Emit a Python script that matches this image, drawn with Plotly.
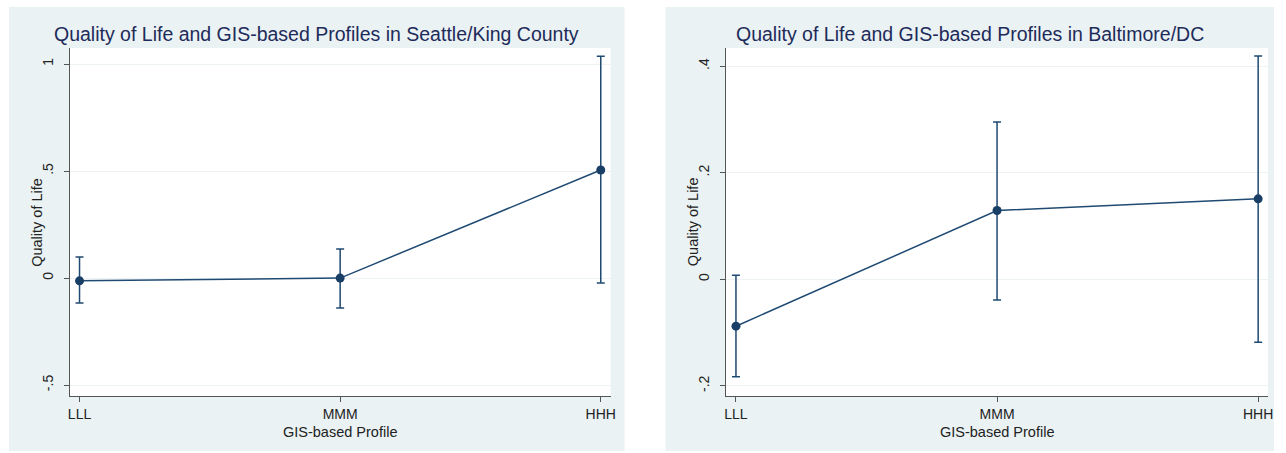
import plotly.graph_objects as go

profiles = ["LLL", "MMM", "HHH"]

seattle_mean = [-0.013, 0.0, 0.505]
seattle_lower = [-0.117, -0.14, -0.023]
seattle_upper = [0.098, 0.136, 1.037]

balt_mean = [-0.088, 0.129, 0.151]
balt_lower = [-0.183, -0.039, -0.118]
balt_upper = [0.0075, 0.295, 0.419]

seattle_ticks = [-0.5, 0, 0.5, 1]
seattle_ticktext = ["-.5", "0", ".5", "1"]
balt_ticks = [-0.2, 0, 0.2, 0.4]
balt_ticktext = ["-.2", "0", ".2", ".4"]

titles = ["Quality of Life and GIS-based Profiles in Seattle/King County",
          "Quality of Life and GIS-based Profiles in Baltimore/DC"]

W, H = 1286, 453
NAVY = "#1f4a72"
BG = "#eaf2f3"
FONT = "Liberation Sans, Arial, Helvetica, sans-serif"

def px(x):
    return x / W

def py(y):
    return 1 - y / H

fig = go.Figure()

for i, (m, lo, up) in enumerate([(seattle_mean, seattle_lower, seattle_upper),
                                  (balt_mean, balt_lower, balt_upper)]):
    ax = "" if i == 0 else "2"
    fig.add_trace(go.Scatter(
        x=profiles, y=m, mode="lines+markers",
        xaxis="x" + ax, yaxis="y" + ax,
        line=dict(color=NAVY, width=1.5),
        marker=dict(color="#1a3f66", size=9),
        error_y=dict(type="data", symmetric=False,
                     array=[u - v for u, v in zip(up, m)],
                     arrayminus=[v - l for v, l in zip(m, lo)],
                     color=NAVY, thickness=1.5, width=4),
        showlegend=False,
    ))

# panel backgrounds (graph regions)
panels = [(7, 626), (667, 1279)]
for (x0, x1) in panels:
    fig.add_shape(type="rect", xref="paper", yref="paper",
                  x0=px(x0), x1=px(x1), y0=py(451), y1=py(7),
                  fillcolor=BG, line=dict(width=0), layer="below")

plot_x = [(68, 612), (728, 1273)]
for (x0, x1) in plot_x:
    fig.add_shape(type="rect", xref="paper", yref="paper",
                  x0=px(x0), x1=px(x1), y0=py(396), y1=py(48),
                  fillcolor="white", line=dict(width=0), layer="below")

axis_common = dict(showline=True, linecolor="#555555", linewidth=1,
                   ticks="outside", ticklen=5, tickcolor="#555555",
                   tickfont=dict(family=FONT, size=14, color="#222222"),
                   zeroline=False)

fig.update_layout(
    width=W, height=H,
    margin=dict(l=0, r=0, t=0, b=0),
    paper_bgcolor="white", plot_bgcolor="rgba(0,0,0,0)",
    font=dict(family=FONT),
    xaxis=dict(domain=[px(68), px(612)], anchor="y", range=[-0.038, 2.038],
               showgrid=False, type="category", **axis_common),
    yaxis=dict(domain=[py(396), py(48)], anchor="x", range=[-0.551, 1.075],
               tickvals=seattle_ticks, ticktext=seattle_ticktext, tickangle=-90,
               ticklabelstandoff=5,
               showgrid=True, gridcolor="#eef4f5", gridwidth=1, **axis_common),
    xaxis2=dict(domain=[px(728), px(1273)], anchor="y2", range=[-0.038, 2.038],
                showgrid=False, type="category", **axis_common),
    yaxis2=dict(domain=[py(396), py(48)], anchor="x2", range=[-0.219, 0.434],
                tickvals=balt_ticks, ticktext=balt_ticktext, tickangle=-90,
                ticklabelstandoff=5,
                showgrid=True, gridcolor="#eef4f5", gridwidth=1, **axis_common),
)

# titles and axis titles
for i, (x0, x1) in enumerate(panels):
    fig.add_annotation(text=titles[i], xref="paper", yref="paper",
                       x=px((x0 + x1) / 2), y=py(34), showarrow=False,
                       xanchor="center", yanchor="middle",
                       font=dict(family=FONT, size=19.5, color="#1e2b5a"))
    px0, px1 = plot_x[i]
    fig.add_annotation(text="GIS-based Profile", xref="paper", yref="paper",
                       x=px((px0 + px1) / 2), y=py(432), showarrow=False,
                       xanchor="center", yanchor="middle",
                       font=dict(family=FONT, size=14.5, color="#222222"))
    fig.add_annotation(text="Quality of Life", xref="paper", yref="paper",
                       x=px(px0 - 33), y=py(222), showarrow=False, textangle=-90,
                       xanchor="center", yanchor="middle",
                       font=dict(family=FONT, size=14.5, color="#222222"))

fig.write_html("out.html", config={"displayModeBar": False},
               post_script="document.body.style.margin='0';")
